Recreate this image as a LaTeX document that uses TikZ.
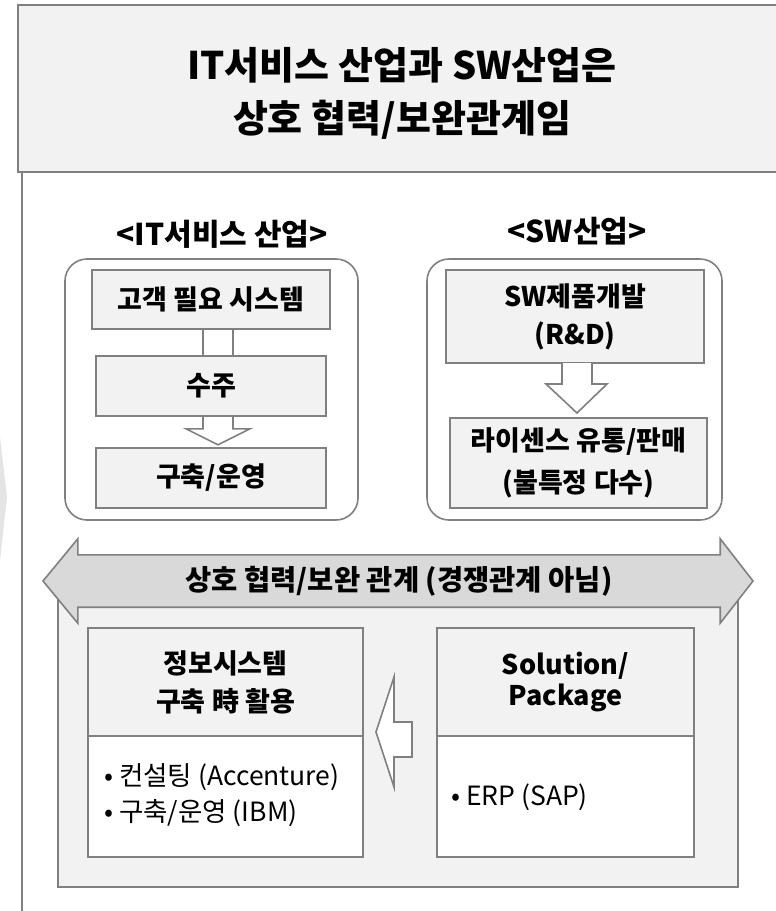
\documentclass[tikz,border=0pt]{standalone}
\usepackage{fontspec}
\setmainfont{Noto Sans CJK KR}
\usetikzlibrary{positioning,calc}
\definecolor{edge}{HTML}{808080}
\definecolor{pale}{HTML}{F2F2F2}
\definecolor{band}{HTML}{D9D9D9}
\tikzset{
  frame/.style={draw=edge, line width=1.6pt},
  stagebox/.style={frame, fill=pale, align=center, inner sep=0pt, outer sep=0pt,
    font=\bfseries\fontsize{27}{38}\selectfont},
  bodybox/.style={frame, fill=white, inner sep=0pt, outer sep=0pt},
  groupbox/.style={frame, fill=white, rounded corners=22pt, inner sep=0pt},
  grouplabel/.style={font=\bfseries\fontsize{30}{34}\selectfont},
  blockarrow/.style={frame, fill=white, line join=miter},
  itemtext/.style={anchor=west, inner sep=0pt, font=\fontsize{26.5}{30}\selectfont}
}
\begin{document}
\begin{tikzpicture}[x=1pt,y=-1pt]
\useasboundingbox (0,0) rectangle (776,911);
\clip (0,0) rectangle (776,911);
% side chevron and frames
\fill[band!70] (-40,437) -- (0,437) -- (7,497) -- (0,560) -- (-40,560) -- cycle;
\draw[frame, fill=white] (22,172) rectangle (800,940);
\draw[frame, fill=pale] (18,5) rectangle (800,172);
\node[align=center, font=\bfseries\fontsize{38}{53}\selectfont] (title) at (402,93)
  {IT서비스 산업과 SW산업은\\상호 협력/보완관계임};

% IT service industry
\node[groupbox, minimum width=293pt, minimum height=261pt] (itgroup) at (211.5,389.5) {};
\node[grouplabel] (itlabel) at (222,234) {<IT서비스 산업>};
\node[stagebox, minimum width=238pt, minimum height=59pt] (needs) at (211,299.5) {고객 필요 시스템};
\draw[blockarrow] ([xshift=-8pt]needs.south) -- ([xshift=-8pt,yshift=21pt]$(needs.south|-itgroup.south)+(0,-71)$)
  -- ([xshift=-25pt,yshift=21pt]$(needs.south|-itgroup.south)+(0,-71)$)
  -- ([xshift=7pt,yshift=5pt]$(needs.south|-itgroup.south)+(0,-71)$)
  -- ([xshift=39pt,yshift=21pt]$(needs.south|-itgroup.south)+(0,-71)$)
  -- ([xshift=22pt,yshift=21pt]$(needs.south|-itgroup.south)+(0,-71)$)
  -- ([xshift=22pt]needs.south) -- cycle;
\node[stagebox, minimum width=230pt, minimum height=60pt] (order) at (211,386) {수주};
\node[stagebox, minimum width=230pt, minimum height=60pt] (build) at (211,478) {구축/운영};
\node[stagebox, minimum width=238pt, minimum height=59pt] at (needs) {고객 필요 시스템};

% SW industry
\node[groupbox, minimum width=295pt, minimum height=261pt] (swgroup) at (574.5,389.5) {};
\node[grouplabel] (swlabel) at (577,231) {<SW산업>};
\node[stagebox, minimum width=258pt, minimum height=93pt] (develop) at (575,316.5) {SW제품개발\\(R\&D)};
\node[stagebox, minimum width=257pt, minimum height=90pt, font=\bfseries\fontsize{27}{42}\selectfont]
  (license) at (578.5,463) {라이센스 유통/판매\\(불특정 다수)};
\draw[blockarrow] ([xshift=-13pt]develop.south) -- ([xshift=-13pt,yshift=-21pt]develop.south)
  -- ([xshift=-29pt,yshift=-21pt]develop.south) -- ([xshift=2pt,yshift=5pt]develop.south|-license.north)
  -- ([xshift=32pt,yshift=-21pt]develop.south) -- ([xshift=17pt,yshift=-21pt]develop.south)
  -- ([xshift=17pt]develop.south);

% mutual relation
\draw[frame, fill=pale] (58,581) rectangle (738,887);
\node[inner sep=0pt, minimum width=642pt, minimum height=52pt] (relation) at (399,581) {};
\draw[frame, fill=band, line join=miter] (relation.north west) -- ++(0,-16) -- (43,581)
  -- ($(relation.south west)+(0,16)$) -- (relation.south west) -- (relation.south east)
  -- ++(0,16) -- (753,581) -- ($(relation.north east)+(0,-16)$) -- (relation.north east) -- cycle;
\node[font=\bfseries\fontsize{28.5}{32}\selectfont] at (relation) {상호 협력/보완 관계 (경쟁관계 아님)};

\node[stagebox, minimum width=275pt, minimum height=108pt, anchor=north west] (infohead) at (88,628)
  {정보시스템\\구축 時 활용};
\node[bodybox, minimum width=275pt, minimum height=121pt, below=0pt of infohead] (infobody) {};
\node[itemtext] (consult) at (104,777) {• 컨설팅 (Accenture)};
\node[itemtext] (operate) at (104,813) {• 구축/운영 (IBM)};

\node[stagebox, minimum width=257pt, minimum height=108pt, anchor=north west,
  font=\bfseries\fontsize{27}{31}\selectfont] (solhead) at (437,628) {Solution/\\Package};
\node[bodybox, minimum width=257pt, minimum height=121pt, below=0pt of solhead] (solbody) {};
\node[itemtext] (erp) at (451,797) {• ERP (SAP)};

\draw[blockarrow] ([xshift=-25pt,yshift=14pt]solhead.south west) -- ([xshift=-43pt,yshift=14pt]solhead.south west)
  -- ([xshift=-43pt,yshift=59pt]solhead.south west) -- ([xshift=13pt,yshift=4pt]infohead.south east)
  -- ([xshift=-43pt,yshift=-51pt]solhead.south west) -- ([xshift=-43pt,yshift=-21pt]solhead.south west)
  -- ([xshift=-25pt,yshift=-21pt]solhead.south west) -- cycle;
\end{tikzpicture}
\end{document}
